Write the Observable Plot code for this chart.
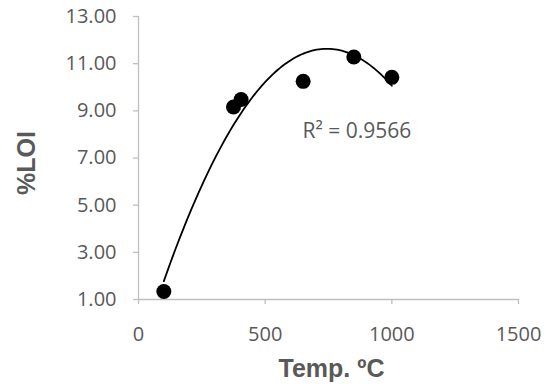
<!DOCTYPE html>
<html><head><meta charset="utf-8">
<script src="https://cdn.jsdelivr.net/npm/d3@7"></script>
<script src="https://cdn.jsdelivr.net/npm/@observablehq/plot@0.6"></script>
<style>body{margin:0;background:#fff;} #chart svg{display:block;}</style>
</head><body><div id="chart"></div>
<script>
const temps = [100, 375, 405, 650, 850, 1000];
const loi = [1.34, 9.16, 9.48, 10.25, 11.28, 10.42];
const xTicks = [0, 500, 1000, 1500];
const yTicks = [1, 3, 5, 7, 9, 11, 13];
const xTitle = "Temp. ºC";
const yTitle = "%LOI";
const r2Label = "R² = 0.9566";

const points = temps.map((t, i) => ({t, v: loi[i]}));

// Order-2 polynomial trendline (least squares), as in the spreadsheet chart
function quadFit(xs, ys) {
  const n = xs.length;
  let s = [0,0,0,0,0], b = [0,0,0];
  for (let i = 0; i < n; i++) {
    const x = xs[i], y = ys[i];
    for (let k = 0; k < 5; k++) s[k] += Math.pow(x, k);
    for (let k = 0; k < 3; k++) b[k] += y * Math.pow(x, k);
  }
  const A = [[s[0],s[1],s[2],b[0]],[s[1],s[2],s[3],b[1]],[s[2],s[3],s[4],b[2]]];
  for (let c = 0; c < 3; c++) {
    for (let r = c + 1; r < 3; r++) {
      const f = A[r][c] / A[c][c];
      for (let k = c; k < 4; k++) A[r][k] -= f * A[c][k];
    }
  }
  const coef = [0,0,0];
  for (let r = 2; r >= 0; r--) {
    let v = A[r][3];
    for (let k = r + 1; k < 3; k++) v -= A[r][k] * coef[k];
    coef[r] = v / A[r][r];
  }
  return coef;
}
const [c0, c1, c2] = quadFit(temps, loi);
const tMin = d3.min(temps), tMax = d3.max(temps);
const trend = d3.range(0, 101).map(i => {
  const t = tMin + (tMax - tMin) * i / 100;
  return {t, v: c0 + c1 * t + c2 * t * t};
});

const labelFont = "'Open Sans', 'Liberation Sans', sans-serif";
const titleFont = "'Liberation Sans', Arial, sans-serif";
const grey = "#595959";
const axisGrey = "#bfbfbf";

const chart = Plot.plot({
  width: 552,
  height: 387,
  marginLeft: 138,
  marginRight: 34,
  marginTop: 16,
  marginBottom: 88,
  style: {fontFamily: labelFont, background: "#fff"},
  x: {domain: [0, 1500]},
  y: {domain: [1, 13]},
  marks: [
    Plot.ruleY([1], {stroke: axisGrey, strokeWidth: 1.3}),
    Plot.ruleX([0], {stroke: axisGrey, strokeWidth: 1.3}),
    Plot.axisX({ticks: xTicks, tickSize: 5, tickPadding: 22, stroke: axisGrey, strokeWidth: 1.3, fill: grey, fontSize: 20, label: null, tickFormat: d => String(d)}),
    Plot.axisY({ticks: yTicks, tickSize: 5, tickPadding: 17, stroke: axisGrey, strokeWidth: 1.3, fill: grey, fontSize: 20, label: null, tickFormat: d => d.toFixed(2)}),
    Plot.line(trend, {x: "t", y: "v", stroke: "#000", strokeWidth: 1.8, curve: "linear"}),
    Plot.dot(points, {x: "t", y: "v", r: 7.5, fill: "#000", stroke: "none"}),
    Plot.text([r2Label], {frameAnchor: "top-left", dx: 164, dy: 115, textAnchor: "start", lineAnchor: "middle", fontSize: 21, fill: grey}),
    Plot.text([xTitle], {frameAnchor: "bottom", dx: 3, dy: 69, lineAnchor: "middle", fontSize: 25, fontWeight: "bold", fill: grey, fontFamily: titleFont}),
    Plot.text([yTitle], {frameAnchor: "left", dx: -112, dy: 37, rotate: -90, lineAnchor: "middle", fontSize: 25, fontWeight: "bold", fill: grey, fontFamily: titleFont})
  ]
});
document.getElementById("chart").append(chart);
</script>
</body></html>
